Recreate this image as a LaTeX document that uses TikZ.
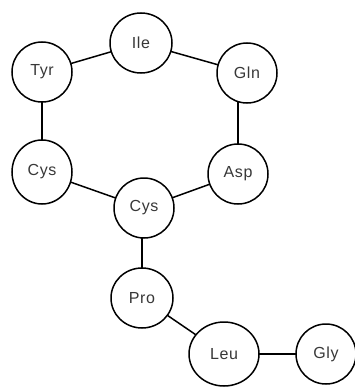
\documentclass[tikz,border=0pt]{standalone}
\usepackage{fontspec}
\setmainfont{Liberation Sans}[LetterSpace=4]
\usetikzlibrary{shapes.geometric,backgrounds}
\begin{document}
\begin{tikzpicture}[x=1pt,y=-1pt,
  res/.style={ellipse,draw=black,fill=white,line width=1.5pt,inner sep=0pt,
    minimum width=#1,minimum height=60pt,text=black!78,
    font=\fontsize{16}{18}\selectfont},
  res/.default=60pt,
  link/.style={draw=black,line width=1.5pt}]
\useasboundingbox (0,0) rectangle (355,388);
\node[res=62pt] (ile) at (141,43) {Ile};
\node[res] (tyr) at (42,72) {Tyr};
\node[res] (gln) at (247,73) {Gln};
\node[res,minimum height=64pt] (cysl) at (42,172) {Cys};
\node[res] (asp) at (238,174) {Asp};
\node[res] (cysc) at (144,208) {Cys};
\node[res=62pt] (pro) at (142,298) {Pro};
\node[res=70pt,minimum height=64pt] (leu) at (224,354) {Leu};
\node[res] (gly) at (326,354) {Gly};
\begin{scope}[on background layer]
\draw[link] (tyr.center) -- (ile.center);
\draw[link] (ile.center) -- (gln.center);
\draw[link] (tyr.center) -- (cysl.center);
\draw[link] (asp.center) -- (asp.center |- gln.center);
\draw[link] (cysl.center) -- (cysc.center);
\draw[link] (cysc.center) -- (asp.center);
\draw[link] (pro.center |- cysc.center) -- (pro.center);
\draw[link] (pro.center) -- (leu.center);
\draw[link] (leu.center) -- (gly.center);
\end{scope}
\end{tikzpicture}
\end{document}
